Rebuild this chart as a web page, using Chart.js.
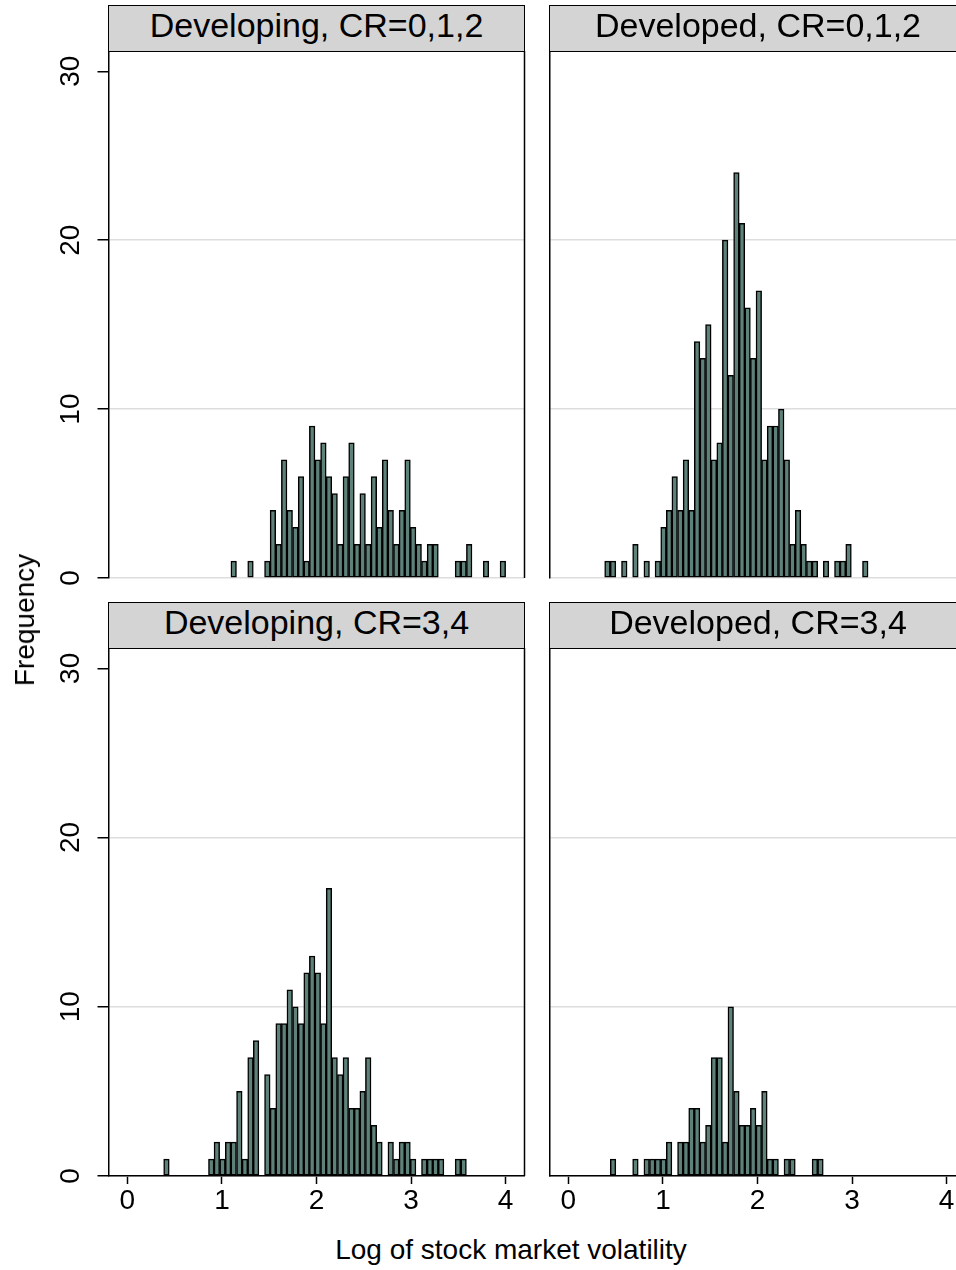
<!DOCTYPE html>
<html><head><meta charset="utf-8">
<script src="https://cdn.jsdelivr.net/npm/chart.js@4.4.1/dist/chart.umd.min.js"></script>
<style>
html,body{margin:0;padding:0;background:#fff;}
body{width:956px;height:1270px;overflow:hidden;position:relative;font-family:"Liberation Sans",Arial,sans-serif;}
.strip{position:absolute;box-sizing:border-box;background:#d4d4d4;border:1.5px solid #000;font-size:34px;line-height:38px;text-align:center;color:#000;white-space:nowrap;overflow:hidden;}
canvas{position:absolute;}
.ttl{position:absolute;font-size:28px;color:#000;white-space:nowrap;}
</style></head><body>
<canvas id="c0" width="540" height="600" style="left:0;top:0;width:540px;height:600px"></canvas>
<canvas id="c1" width="440" height="600" style="left:537px;top:0;width:440px;height:600px"></canvas>
<canvas id="c2" width="540" height="640" style="left:0;top:590px;width:540px;height:640px"></canvas>
<canvas id="c3" width="440" height="640" style="left:537px;top:590px;width:440px;height:640px"></canvas>
<div class="strip" id="s0" style="left:108px;top:5px;width:417px;height:47px"></div>
<div class="strip" id="s1" style="left:549px;top:5px;width:418px;height:47px"></div>
<div class="strip" id="s2" style="left:108px;top:602px;width:417px;height:47px"></div>
<div class="strip" id="s3" style="left:549px;top:602px;width:418px;height:47px"></div>
<div class="ttl" id="ytitle" style="left:25px;top:620px;transform:translate(-50%,-50%) rotate(-90deg);">Frequency</div>
<div class="ttl" id="xtitle" style="left:511px;top:1250px;transform:translate(-50%,-50%);">Log of stock market volatility</div>
<script>
// ---- data ----
const panelTitles = ["Developing, CR=0,1,2", "Developed, CR=0,1,2", "Developing, CR=3,4", "Developed, CR=3,4"];
const yTickValues = [0, 10, 20, 30];
const xTickValues = [0, 1, 2, 3, 4];
const binCenters = [
 0.413,0.472,0.531,0.591,0.650,0.709,0.768,0.828,0.887,0.946,
 1.006,1.065,1.124,1.184,1.243,1.302,1.361,1.421,1.480,1.539,
 1.599,1.658,1.717,1.777,1.836,1.895,1.954,2.014,2.073,2.132,
 2.192,2.251,2.310,2.370,2.429,2.488,2.547,2.607,2.666,2.725,
 2.785,2.844,2.903,2.963,3.022,3.081,3.140,3.200,3.259,3.318,
 3.378,3.437,3.496,3.556,3.615,3.674,3.733,3.793,3.852,3.911,
 3.971];
const developingCR012 = [
 0,0,0,0,0,0,0,0,0,0,
 0,0,1,0,0,1,0,0,1,4,
 2,7,4,3,6,1,9,7,8,6,
 5,2,6,8,2,5,2,6,3,7,
 4,2,4,7,3,2,1,2,2,0,
 0,0,1,1,2,0,0,1,0,0,
 1];
const developedCR012 = [
 1,1,0,1,0,2,0,1,0,1,
 3,4,6,4,7,4,14,13,15,7,
 8,20,12,24,21,16,13,17,7,9,
 9,10,7,2,4,2,1,1,0,1,
 0,1,1,2,0,0,1,0,0,0,
 0,0,0,0,0,0,0,0,0,0,
 0];
const developingCR34 = [
 1,0,0,0,0,0,0,0,1,2,
 1,2,2,5,1,7,8,0,6,4,
 9,9,11,10,9,12,13,12,9,17,
 7,6,7,4,4,5,7,3,2,0,
 2,1,2,2,1,0,1,1,1,1,
 0,0,1,1,0,0,0,0,0,0,
 0];
const developedCR34 = [
 0,1,0,0,0,1,0,1,1,1,
 1,2,0,2,2,4,4,2,3,7,
 7,2,10,5,3,3,4,3,5,1,
 1,0,1,1,0,0,0,1,1,0,
 0,0,0,0,0,0,0,0,0,0,
 0,0,0,0,0,0,0,0,0,0,
 0];
const xRange = [-0.2, 4.2];
const yRange = [0, 31.2];

// ---- plugins ----
const FONT = '"Liberation Sans", Arial, sans-serif';
const panelPlugin = {
  id: 'panelDeco',
  afterDraw(chart, args, opts) {
    const ctx = chart.ctx, a = chart.chartArea;
    ctx.save();
    ctx.strokeStyle = '#000';
    ctx.lineWidth = 1.5;
    ctx.beginPath();
    ctx.moveTo(a.right, a.top);
    ctx.lineTo(a.right, a.bottom);
    ctx.stroke();
    if (opts.yLabels) {
      const ys = chart.scales.y;
      ctx.font = '28px ' + FONT;
      ctx.fillStyle = '#000';
      ctx.textAlign = 'center';
      ctx.textBaseline = 'middle';
      ys.ticks.forEach(t => {
        const y = ys.getPixelForValue(t.value);
        ctx.save();
        ctx.translate(a.left - 37.5, y);
        ctx.rotate(-Math.PI / 2);
        ctx.fillText(String(t.value), 0, 0);
        ctx.restore();
      });
    }
    ctx.restore();
  }
};

function makePanel(id, counts, isLeft, isBottom, padding, yWidth, xHeight) {
  const data = binCenters.map((x, i) => ({x: x, y: counts[i]}));
  const hasBar = c => c.raw && c.raw.y > 0;
  return new Chart(document.getElementById(id), {
    type: 'bar',
    data: {datasets: [{
      data: data,
      backgroundColor: c => hasBar(c) ? '#5e8179' : 'rgba(0,0,0,0)',
      borderColor: c => hasBar(c) ? '#000' : 'rgba(0,0,0,0)',
      borderWidth: c => hasBar(c) ? 1.5 : 0,
      borderSkipped: false,
      barPercentage: 1.0,
      categoryPercentage: 1.0
    }]},
    options: {
      responsive: false,
      animation: false,
      devicePixelRatio: 1,
      layout: {padding: padding},
      plugins: {legend: {display: false}, tooltip: {enabled: false}, panelDeco: {yLabels: isLeft}},
      scales: {
        x: {
          type: 'linear',
          min: xRange[0], max: xRange[1],
          offset: false,
          display: isBottom,
          afterBuildTicks: s => { s.ticks = xTickValues.map(v => ({value: v})); },
          afterFit: s => { if (xHeight) s.height = xHeight; },
          grid: {display: true, offset: false, drawOnChartArea: false, drawTicks: true, tickLength: 8,
                 color: 'rgba(0,0,0,0)', tickColor: '#000', tickWidth: 1.5},
          border: {display: true, color: '#000', width: 1.5},
          ticks: {color: '#000', font: {size: 28, family: FONT}, padding: 0, maxRotation: 0, autoSkip: false}
        },
        y: {
          type: 'linear',
          min: yRange[0], max: yRange[1],
          afterBuildTicks: s => { s.ticks = yTickValues.map(v => ({value: v})); },
          afterFit: s => { s.width = yWidth; },
          grid: {
            display: true,
            drawTicks: isLeft,
            tickLength: 11,
            color: c => (c.tick && c.tick.value === 30) ? 'rgba(0,0,0,0)' : '#dddddd',
            lineWidth: 1.5,
            tickColor: '#000',
            tickWidth: 1.5
          },
          border: {display: true, color: '#000', width: 1.5},
          ticks: {display: false}
        }
      }
    },
    plugins: [panelPlugin]
  });
}

panelTitles.forEach((t, i) => { document.getElementById('s' + i).textContent = t; });

makePanel('c0', developingCR012, true, false, {left: 0, top: 51, right: 15.5, bottom: 22}, 108.5, 0);
makePanel('c1', developedCR012, false, false, {left: 0, top: 51, right: 11.5, bottom: 22}, 12.5, 0);
makePanel('c2', developingCR34, true, true, {left: 0, top: 58, right: 15.5, bottom: 0}, 108.5, 54);
makePanel('c3', developedCR34, false, true, {left: 0, top: 58, right: 11.5, bottom: 0}, 12.5, 54);
</script>
</body></html>
